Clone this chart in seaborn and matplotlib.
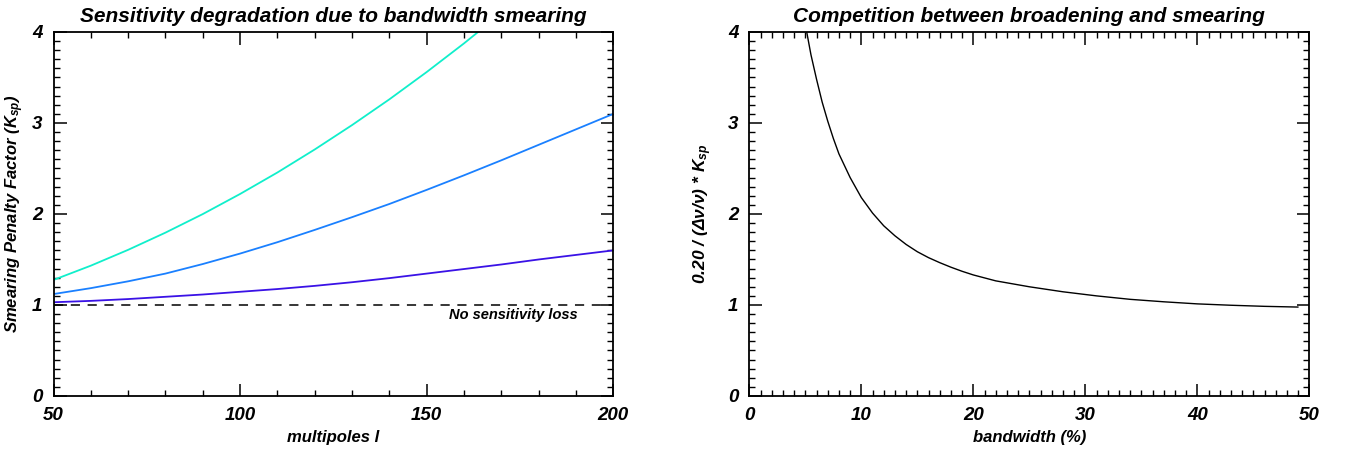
import numpy as np
import pandas as pd
import matplotlib
matplotlib.use("Agg")
import matplotlib.pyplot as plt
from matplotlib.ticker import MultipleLocator
import seaborn as sns

# ---------------- data ----------------
multipoles = [50, 60, 70, 80, 90, 100, 110, 120, 130, 140, 150, 160, 170, 180, 190, 200]
k_purple = [1.03, 1.045, 1.065, 1.09, 1.115, 1.145, 1.175, 1.21, 1.25, 1.295, 1.345, 1.395, 1.445, 1.50, 1.55, 1.60]
k_blue = [1.12, 1.185, 1.26, 1.345, 1.45, 1.565, 1.69, 1.825, 1.965, 2.11, 2.265, 2.425, 2.59, 2.76, 2.93, 3.10]
multipoles_cyan = [50, 60, 70, 80, 90, 100, 110, 120, 130, 140, 150, 160, 170]
k_cyan = [1.275, 1.432, 1.606, 1.795, 1.999, 2.22, 2.456, 2.709, 2.977, 3.26, 3.56, 3.875, 4.207]

bandwidth = [5, 5.5, 6, 6.5, 7, 7.5, 8, 9, 10, 11, 12, 13, 14, 15, 16, 17, 18, 19, 20, 22, 25, 28, 31,
             34, 37, 40, 43, 46, 49]
competition = [4.08, 3.75, 3.48, 3.23, 3.02, 2.83, 2.66, 2.40, 2.18, 2.01, 1.87, 1.76, 1.665, 1.585, 1.52,
               1.465, 1.415, 1.37, 1.33, 1.265, 1.20, 1.145, 1.10, 1.062, 1.035, 1.012, 0.997, 0.985, 0.977]

left_title = "Sensitivity degradation due to bandwidth smearing"
right_title = "Competition between broadening and smearing"

# ---------------- style ----------------
sns.set_style("ticks")
FONT = ["Liberation Sans", "DejaVu Sans"]
plt.rcParams["font.family"] = FONT
plt.rcParams["text.color"] = "black"
plt.rcParams["axes.labelcolor"] = "black"
plt.rcParams["mathtext.fontset"] = "custom"
plt.rcParams["mathtext.rm"] = "Liberation Sans:italic:bold"
plt.rcParams["mathtext.it"] = "Liberation Sans:italic:bold"
plt.rcParams["mathtext.bf"] = "Liberation Sans:italic:bold"

fig = plt.figure(figsize=(13.48, 4.54), dpi=100)
ax1 = fig.add_axes([0.0397, 0.1278, 0.4153, 0.8018])
ax2 = fig.add_axes([0.5559, 0.1278, 0.4154, 0.8018])

df_left = pd.concat([
    pd.DataFrame({"l": multipoles, "K": k_purple, "s": "purple"}),
    pd.DataFrame({"l": multipoles, "K": k_blue, "s": "blue"}),
    pd.DataFrame({"l": multipoles_cyan, "K": k_cyan, "s": "cyan"}),
])
palette = {"purple": "#3A12E6", "blue": "#1A80FF", "cyan": "#10EFCB"}
sns.lineplot(data=df_left, x="l", y="K", hue="s", palette=palette, ax=ax1,
             legend=False, linewidth=1.3, estimator=None, sort=False)
ax1.plot([50, 200], [1, 1], color="black", linestyle=(0, (6, 5)), linewidth=1.1)
ax1.text(190.5, 0.89, "No sensitivity loss", ha="right", va="center",
         fontsize=10.5, fontweight="bold", fontstyle="italic", family=FONT)

df_right = pd.DataFrame({"bw": bandwidth, "v": competition})
sns.lineplot(data=df_right, x="bw", y="v", color="black", ax=ax2, linewidth=1.0,
             estimator=None, sort=False)

ax1.set_xlim(50, 200)
ax1.set_ylim(0, 4)
ax2.set_xlim(0, 50)
ax2.set_ylim(0, 4)

ax1.xaxis.set_major_locator(MultipleLocator(50))
ax1.xaxis.set_minor_locator(MultipleLocator(10))
ax2.xaxis.set_major_locator(MultipleLocator(10))
ax2.xaxis.set_minor_locator(MultipleLocator(1))
for ax in (ax1, ax2):
    ax.yaxis.set_major_locator(MultipleLocator(1))
    ax.yaxis.set_minor_locator(MultipleLocator(0.1))
    ax.tick_params(which="both", direction="in", top=True, right=True,
                   bottom=True, left=True, labelsize=13.5, pad=8, colors="black")
    ax.tick_params(which="major", length=9, width=1.1)
    ax.tick_params(which="minor", length=4.5, width=1.0)
    for lab in ax.get_xticklabels() + ax.get_yticklabels():
        lab.set_fontweight("bold")
        lab.set_fontstyle("italic")
    for sp in ax.spines.values():
        sp.set_visible(True)
        sp.set_linewidth(1.3)
        sp.set_color("black")

ax1.set_title(left_title, fontsize=15, fontweight="bold", fontstyle="italic", pad=7)
ax2.set_title(right_title, fontsize=15, fontweight="bold", fontstyle="italic", pad=7)

ax1.set_xlabel("multipoles l", fontsize=12, fontweight="bold", fontstyle="italic", labelpad=4)
ax2.set_xlabel("bandwidth (%)", fontsize=12, fontweight="bold", fontstyle="italic", labelpad=4)
ax1.set_ylabel("Smearing Penalty Factor (K$_{\\mathregular{sp}}$)", fontsize=12, fontstyle="italic",
               fontweight="bold", labelpad=4)
ax2.set_ylabel("0.20 / (\u0394\u03bd/\u03bd) * K$_{\\mathregular{sp}}$", fontsize=12.5, fontweight="bold",
               fontstyle="italic", labelpad=10)

fig.savefig("out.png", dpi=100)
